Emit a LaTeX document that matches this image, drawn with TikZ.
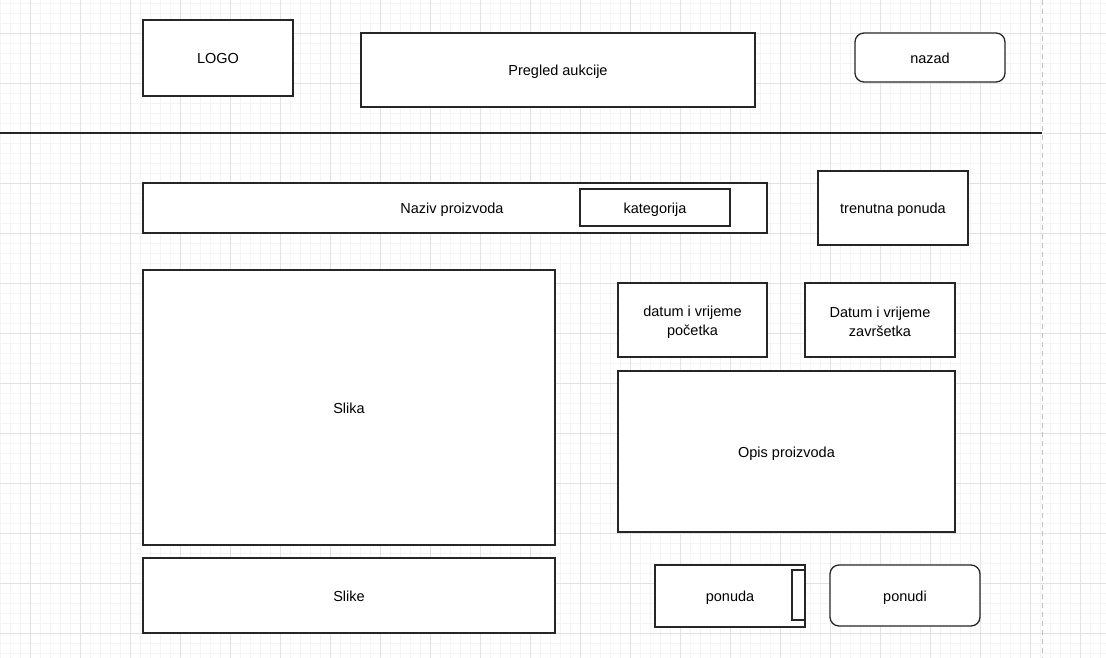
\documentclass[tikz,border=0pt]{standalone}
\usepackage{fontspec}
\setmainfont{Liberation Sans}
\definecolor{gminor}{HTML}{F4F4F4}
\definecolor{gmajor}{HTML}{E2E2E2}
\definecolor{dashgray}{HTML}{C0C0C0}
\begin{document}
\begin{tikzpicture}[x=1pt,y=-1pt,
  box/.style={draw=black!85, line width=1.3pt, fill=white, inner sep=0pt, outer sep=0pt,
    font=\fontsize{14.5}{19}\selectfont, text height=14.5pt, text depth=3pt},
  rbox/.style={box, rounded corners=9pt},
  mtext/.style={font=\fontsize{14.5}{19}\selectfont, align=center, inner sep=0pt}]
\useasboundingbox (0,0) rectangle (1106,658);
\fill[white] (0,0) rectangle (1106,658);
% grid
\foreach \x in {0,10,...,1100} {\draw[gminor, line width=0.8pt] (\x,0) -- (\x,658);}
\foreach \y in {3,13,...,653} {\draw[gminor, line width=0.8pt] (0,\y) -- (1106,\y);}
\foreach \x in {30,80,...,1080} {\draw[gmajor, line width=0.8pt] (\x,0) -- (\x,658);}
\foreach \y in {33,83,...,633} {\draw[gmajor, line width=0.8pt] (0,\y) -- (1106,\y);}
% page edge and separator
\coordinate (d1) at (1042,0);
\coordinate (d2) at (1042,658);
\draw[dashgray, line width=1pt, dash pattern=on 5pt off 4pt] (d1) -- (d2);
\coordinate (l1) at (0,133);
\coordinate (l2) at (1042,133);
\draw[black!85, line width=1.3pt] (l1) -- (l2);
% boxes
\node[box, minimum width=150pt, minimum height=76pt] (logo) at (218,58) {LOGO};
\node[box, minimum width=394pt, minimum height=74pt] (pregled) at (558,70) {Pregled aukcije};
\node[rbox, minimum width=150pt, minimum height=49pt] (nazad) at (930,57.5) {nazad};
\node[box, minimum width=624pt, minimum height=50pt] (naziv) at (455,208) {};
\node[box, draw=none, fill=none] (nazivt) at (452,208) {Naziv proizvoda};
\node[box, minimum width=150pt, minimum height=37pt] (kat) at (655,207.5) {kategorija};
\node[box, minimum width=150pt, minimum height=74pt] (tren) at (893,208) {trenutna ponuda};
\node[box, minimum width=412pt, minimum height=275pt] (slika) at (349,407.5) {Slika};
\node[box, minimum width=149pt, minimum height=74pt] (datum1) at (692.5,320) {};
\node[mtext] (datum1t) at (692.5,322) {datum i vrijeme\\početka};
\node[box, minimum width=150pt, minimum height=74pt] (datum2) at (880,320) {};
\node[mtext] (datum2t) at (880,322) {Datum i vrijeme\\završetka};
\node[box, minimum width=337pt, minimum height=161pt] (opis) at (786.5,451.5) {Opis proizvoda};
\node[box, minimum width=412pt, minimum height=75pt] (slike) at (349,595.5) {Slike};
\node[box, minimum width=150pt, minimum height=62pt] (ponuda) at (730,596) {ponuda};
\node[box, minimum width=13pt, minimum height=50pt] (ponudain) at (798.5,595) {};
\node[rbox, minimum width=150pt, minimum height=61pt] (ponudi) at (905,595.5) {ponudi};
\end{tikzpicture}
\end{document}
